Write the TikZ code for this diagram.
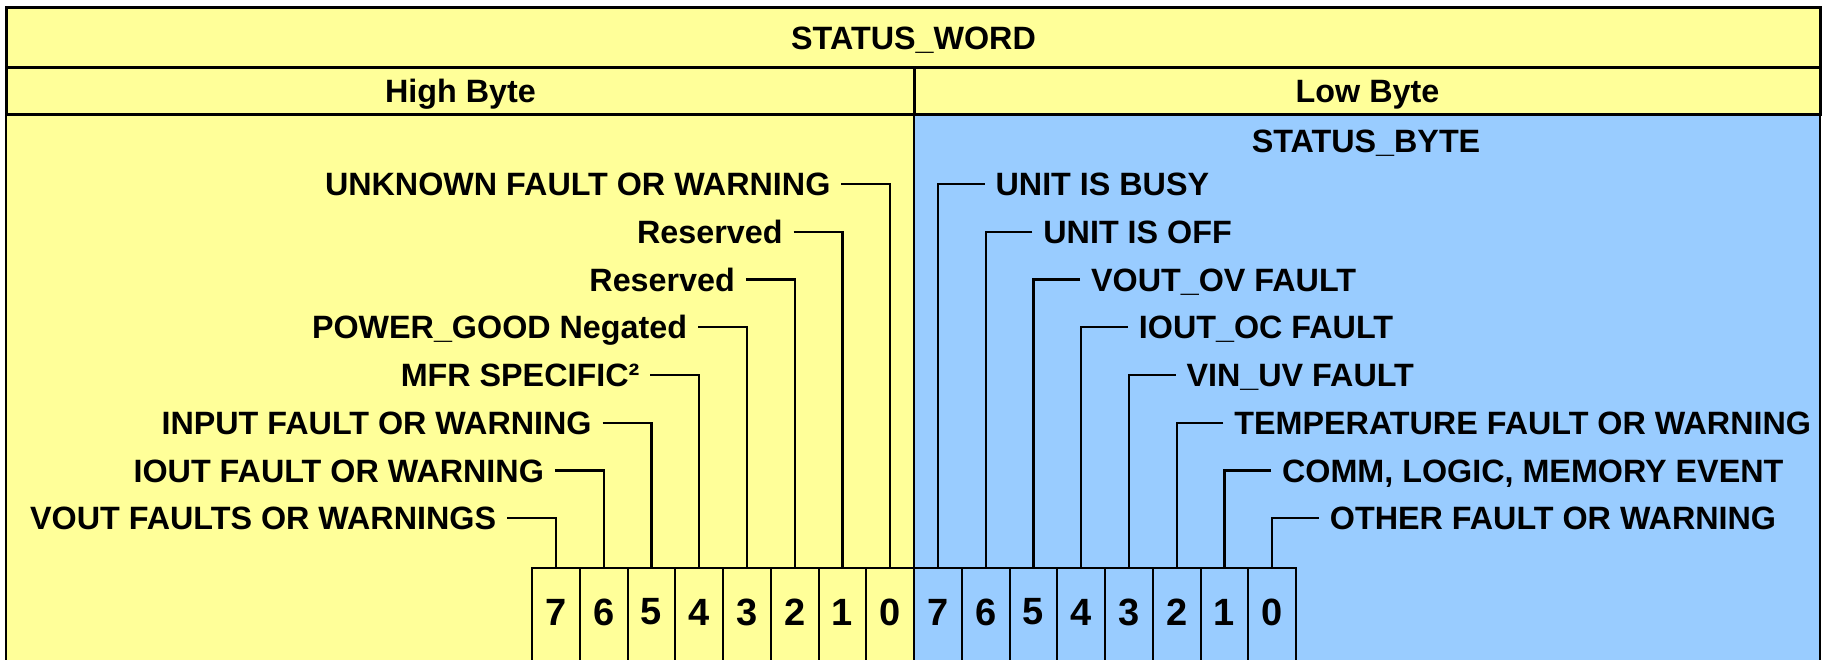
\documentclass[tikz,border=0pt]{standalone}
\usepackage{fontspec}
\setmainfont{Liberation Sans}
\usetikzlibrary{positioning}
\definecolor{paleyellow}{HTML}{FFFF99}
\definecolor{paleblue}{HTML}{99CCFF}
\newcommand\lblfont{\fontsize{32.3}{36}\selectfont\bfseries}
\newcommand\bitfont{\fontsize{38}{42}\selectfont\bfseries}
\tikzset{
  hdr/.style={draw=black,line width=3pt,fill=paleyellow,inner sep=0pt,anchor=north west,font=\lblfont,text height=23.1pt,text depth=0pt},
  body/.style={draw=black,line width=2pt,inner sep=0pt,anchor=north west,minimum height=600pt},
  plain/.style={inner sep=0pt,font=\lblfont,text height=23.1pt,text depth=0pt},
  lbl/.style={plain,outer xsep=11pt},
  bitcell/.style={draw=black,line width=2.2pt,anchor=north west,minimum width=47.75pt,minimum height=150pt},
  bitnum/.style={inner sep=0pt,font=\bitfont},
  wire/.style={draw=black,line width=2.2pt}}
\begin{document}
\begin{tikzpicture}[x=1pt,y=-1pt]
  \useasboundingbox (0,0) rectangle (1825,659);
  \clip (0,0) rectangle (1825,659);
  % the two halves of the word
  \node[body,fill=paleyellow,minimum width=908pt] (high) at (5,113) {};
  \node[body,fill=paleblue,minimum width=906pt] (low) at (913,113) {};
  % header rows
  \node[hdr,minimum width=1814pt,minimum height=60pt] (word) at (5,6) {STATUS\_WORD};
  \node[hdr,minimum width=908pt,minimum height=47pt] (hbyte) at (5,66) {High Byte};
  \node[hdr,minimum width=906pt,minimum height=47pt] (lbyte) at (913,66) {Low Byte};
  \node[plain] (sbyte) at (1366,141) {STATUS\_BYTE};
  % bit cells
  \foreach \i in {0,...,15} {
    \pgfmathtruncatemacro\b{7-mod(\i,8)}
    \node[bitcell] (c\i) at (531+\i*47.75,567) {};
    \node[bitnum] (d\i) at ([yshift=-45pt]c\i.north) {\b};
  }
  % high byte flags
  \node[lbl,anchor=east] (h0) at (841.4,184) {UNKNOWN FAULT OR WARNING};
  \node[lbl,anchor=east] (h1) at (793.6,231.75) {Reserved};
  \node[lbl,anchor=east] (h2) at (745.9,279.5) {Reserved};
  \node[lbl,anchor=east] (h3) at (698.1,327.25) {POWER\_GOOD Negated};
  \node[lbl,anchor=east] (h4) at (650.4,375) {MFR SPECIFIC²};
  \node[lbl,anchor=east] (h5) at (602.6,422.75) {INPUT FAULT OR WARNING};
  \node[lbl,anchor=east] (h6) at (554.9,470.5) {IOUT FAULT OR WARNING};
  \node[lbl,anchor=east] (h7) at (507.1,518.25) {VOUT FAULTS OR WARNINGS};
  % low byte flags
  \node[lbl,anchor=west] (l0) at (984.6,184) {UNIT IS BUSY};
  \node[lbl,anchor=west] (l1) at (1032.4,231.75) {UNIT IS OFF};
  \node[lbl,anchor=west] (l2) at (1080.1,279.5) {VOUT\_OV FAULT};
  \node[lbl,anchor=west] (l3) at (1127.9,327.25) {IOUT\_OC FAULT};
  \node[lbl,anchor=west] (l4) at (1175.6,375) {VIN\_UV FAULT};
  \node[lbl,anchor=west] (l5) at (1223.4,422.75) {TEMPERATURE FAULT OR WARNING};
  \node[lbl,anchor=west] (l6) at (1271.1,470.5) {COMM, LOGIC, MEMORY EVENT};
  \node[lbl,anchor=west] (l7) at (1318.9,518.25) {OTHER FAULT OR WARNING};
  % leader lines
  \foreach \k in {0,...,7} {
    \pgfmathtruncatemacro\hc{7-\k}
    \pgfmathtruncatemacro\lc{8+\k}
    \draw[wire] (h\k.east) -| (c\hc.north);
    \draw[wire] (l\k.west) -| (c\lc.north);
  }
\end{tikzpicture}
\end{document}
